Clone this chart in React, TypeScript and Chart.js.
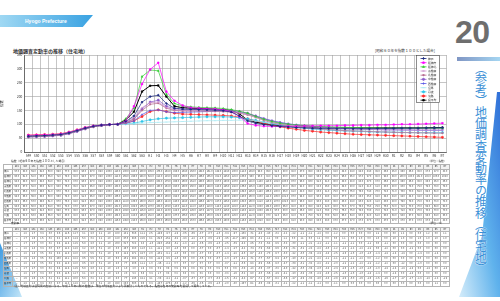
import React, { useEffect, useRef } from "react";
import { Chart, registerables } from "chart.js";
import { drawPoint } from "chart.js/helpers";

Chart.register(...registerables);

const YEARS = [
  "S49","S50","S51","S52","S53","S54","S55","S56","S57","S58","S59","S60","S61","S62","S63",
  "H1","H2","H3","H4","H5","H6","H7","H8","H9","H10","H11","H12","H13","H14","H15",
  "H16","H17","H18","H19","H20","H21","H22","H23","H24","H25","H26","H27","H28","H29","H30",
  "R1","R2","R3","R4","R5","R6","R7",
];

const REGIONS = ["神戸","阪神南","阪神北","東播磨","北播磨","中播磨","西播磨","但馬","丹波","淡路","県平均"];

const kobe = [57,58,59,61,63,69,77,86,93,97,99,100,110,130,180,200,205,175,158,155,154,153,152,151,149,144,130,112,104,99,95,92,90,88,87,86,85,85,84,84,84,84,84,85,85,85,86,86,86,87,87,88];
const hanshinMinami = [60,61,62,63,65,71,79,88,94,97,99,100,112,165,245,298,322,218,185,168,160,158,156,155,152,145,128,103,96,93,92,92,93,93,94,94,95,95,95,96,96,97,97,98,98,99,100,100,101,102,103,104];
const hanshinKita = [58,59,60,62,64,70,78,87,93,97,99,100,120,158,272,296,293,208,175,166,163,161,160,159,157,153,147,140,128,118,110,104,100,97,95,93,92,91,90,89,88,88,87,87,86,86,86,86,86,86,86,86];
const higashiHarima = [56,57,58,60,62,68,76,85,92,96,99,100,108,125,160,178,180,160,152,150,150,150,149,149,148,146,142,136,126,116,108,102,98,95,92,90,88,86,85,84,83,82,81,81,80,80,80,79,79,79,79,79];
const kitaHarima = [55,56,57,59,61,67,75,84,91,96,99,100,105,118,150,172,176,158,150,148,148,148,147,147,146,144,140,134,125,114,106,100,95,91,88,85,83,81,79,77,76,75,74,73,72,71,70,70,69,69,68,68];
const nakaHarima = [54,55,56,58,60,66,74,83,91,96,99,100,106,120,155,180,187,165,156,154,154,154,153,153,152,150,146,140,130,120,112,106,101,97,94,92,90,89,88,87,86,85,85,84,84,84,84,84,84,84,84,84];
const nishiHarima = [55,56,57,59,61,67,75,84,92,96,99,100,104,112,135,150,152,145,142,143,144,145,146,147,147,146,143,138,130,121,113,107,102,98,95,92,90,88,86,85,84,83,82,81,80,80,79,79,78,78,78,78];
const tajima = [58,59,60,62,64,70,78,87,93,97,99,100,101,102,104,106,107,108,109,110,111,112,113,113,114,114,115,114,112,108,104,100,96,92,89,86,84,82,80,78,77,76,75,74,73,72,71,70,70,69,69,68];
const tamba = [57,58,59,61,63,69,77,86,93,97,99,100,102,104,110,116,120,122,123,124,125,126,127,127,127,126,124,120,114,108,102,97,93,89,86,83,81,79,77,76,75,74,73,72,72,71,71,70,70,70,70,70];
const awaji = [61,62,63,64,66,72,80,88,94,97,99,100,104,112,128,146,152,146,140,137,136,135,134,133,132,130,126,120,112,104,97,91,86,82,78,75,72,70,68,66,64,63,62,61,60,59,58,57,56,55,54,53];
const average = [56,57,58,60,62,68,76,85,92,96,99,100,116,145,218,239,240,200,165,160,158,157,156,155,153,150,138,115,108,102,98,95,93,91,90,89,88,88,87,87,87,87,87,87,87,87,87,87,87,87,88,88];

const SERIES = [kobe, hanshinMinami, hanshinKita, higashiHarima, kitaHarima, nakaHarima, nishiHarima, tajima, tamba, awaji, average];
const COLORS = ["#1c2a80","#ff00ff","#33cc33","#cc8fcc","#b86a8e","#8a5acb","#5a5ae6","#a6e8f2","#2cc6ea","#ff2a2a","#000000"];
const POINTS = ["rectRot","rect","triangle","crossRot","star","circle","cross","line","circle","circle","rect"];

const Y_TICKS_MAX = 350;

const legendPlugin = {
  id: "boxLegend",
  afterDatasetsDraw(chart: any) {
    const { ctx, chartArea } = chart;
    const x0 = chartArea.right - 30;
    const y0 = chartArea.top + 0.5;
    const w = 23;
    const h = 47;
    ctx.save();
    ctx.fillStyle = "#ffffff";
    ctx.fillRect(x0, y0, w, h);
    ctx.strokeStyle = "#444";
    ctx.lineWidth = 0.6;
    ctx.strokeRect(x0, y0, w, h);
    chart.data.datasets.forEach((ds: any, i: number) => {
      const y = y0 + 3 + i * 4.17;
      ctx.strokeStyle = ds.borderColor;
      ctx.lineWidth = 0.8;
      ctx.beginPath();
      ctx.moveTo(x0 + 4, y);
      ctx.lineTo(x0 + 10, y);
      ctx.stroke();
      ctx.fillStyle = ds.borderColor;
      drawPoint(ctx, { pointStyle: ds.pointStyle, radius: 1.1, rotation: 0, borderWidth: 0.6 } as any, x0 + 7, y);
      ctx.fillStyle = "#333";
      ctx.font = "2.8px 'Noto Sans CJK JP'";
      ctx.textBaseline = "middle";
      ctx.fillText(REGIONS[i], x0 + 11.5, y);
    });
    ctx.restore();
  },
};

function fmt1(v: number | null) {
  return v == null ? "－" : v.toFixed(1);
}

function rates(arr: number[]) {
  return arr.map((v, i) => (i === 0 ? null : ((v / arr[i - 1]) - 1) * 100));
}

function DataTable({ top, caption, unit, rows }: { top: number; caption: string; unit: string; rows: (number | null)[][] }) {
  const cell: React.CSSProperties = {
    border: "1px solid #b4b4b4",
    padding: 0,
    height: 3.94,
    lineHeight: "3.9px",
    textAlign: "center",
    overflow: "hidden",
    whiteSpace: "nowrap",
    fontSize: 2.3,
    color: "#333",
  };
  return (
    <>
      <div style={{ position: "absolute", left: 11, top: top - 5.5, fontSize: 2.8, color: "#333", whiteSpace: "nowrap" }}>{caption}</div>
      <div style={{ position: "absolute", left: 428, top: top - 5.5, fontSize: 2.6, color: "#333", whiteSpace: "nowrap" }}>{unit}</div>
      <table style={{ position: "absolute", left: 3, top, width: 447, borderCollapse: "collapse", tableLayout: "fixed" }}>
        <colgroup>
          <col style={{ width: 9 }} />
          {YEARS.map((y) => (
            <col key={y} />
          ))}
        </colgroup>
        <tbody>
          <tr>
            <td style={cell}></td>
            {YEARS.map((y) => (
              <td key={y} style={{ ...cell, background: "#f2f2f2" }}>{y}</td>
            ))}
          </tr>
          {rows.map((r, ri) => (
            <tr key={ri}>
              <td style={{ ...cell, textAlign: "left", fontSize: 2.4 }}>{REGIONS[ri]}</td>
              {r.map((v, ci) => (
                <td key={ci} style={cell}>{fmt1(v)}</td>
              ))}
            </tr>
          ))}
        </tbody>
      </table>
    </>
  );
}

function LineChart() {
  const ref = useRef<HTMLCanvasElement>(null);
  useEffect(() => {
    if (!ref.current) return;
    const chart = new Chart(ref.current, {
      type: "line",
      data: {
        labels: YEARS,
        datasets: SERIES.map((s, i) => ({
          label: REGIONS[i],
          data: s,
          borderColor: COLORS[i],
          backgroundColor: COLORS[i],
          borderWidth: i === 10 ? 1 : 0.7,
          pointStyle: POINTS[i] as any,
          pointRadius: 1.1,
          pointBorderWidth: 0.6,
          tension: 0,
        })),
      },
      options: {
        animation: false,
        responsive: false,
        maintainAspectRatio: false,
        layout: { padding: { top: 11, right: 13.5, left: 0, bottom: 0 } },
        plugins: { legend: { display: false }, tooltip: { enabled: false } },
        scales: {
          x: {
            offset: true,
            grid: { offset: true, color: "#a0a0a0", lineWidth: 0.6, drawTicks: false },
            border: { color: "#555", width: 0.8 },
            ticks: { font: { size: 3.2, family: "'Noto Sans CJK JP'" }, color: "#333", maxRotation: 0, autoSkip: false, padding: 2 },
            afterFit: (s: any) => { s.height = 10; },
          },
          y: {
            min: 0,
            max: Y_TICKS_MAX,
            ticks: { stepSize: 50, font: { size: 3.2, family: "'Noto Sans CJK JP'" }, color: "#333", padding: 2 },
            grid: { color: "#a0a0a0", lineWidth: 0.6, drawTicks: false },
            border: { color: "#555", width: 0.8 },
            title: { display: true, text: "指数", font: { size: 3.4, family: "'Noto Sans CJK JP'" }, color: "#333", padding: 0 },
            afterFit: (s: any) => { s.width = 24.3; },
          },
        },
      },
      plugins: [legendPlugin],
    });
    return () => chart.destroy();
  }, []);
  return <canvas ref={ref} width={460} height={118} style={{ position: "absolute", left: 0, top: 44, width: 460, height: 118 }} />;
}

export default function App() {
  const indexRows = SERIES;
  const rateRows = SERIES.map(rates);
  return (
    <div style={{ position: "fixed", left: 0, top: 0, width: 500, height: 301, background: "#fff", overflow: "hidden", fontFamily: "'Noto Sans CJK JP', sans-serif" }}>
      {/* header banner */}
      <div style={{ position: "absolute", left: 0, top: 15, width: 93, height: 12, background: "linear-gradient(to right, #9fd8f3, #39a2e2)", clipPath: "polygon(0 0, 100% 0, 89% 100%, 0 100%)" }} />
      <div style={{ position: "absolute", left: 25, top: 18.3, fontSize: 5, fontWeight: 700, color: "#fff", fontFamily: "'Liberation Sans', sans-serif", whiteSpace: "nowrap" }}>Hyogo Prefecture</div>

      {/* page number */}
      <div style={{ position: "absolute", left: 455, top: 15.5, fontSize: 32, lineHeight: "32px", fontWeight: 700, color: "#6e6e6e", fontFamily: "'Liberation Sans', sans-serif", letterSpacing: -0.5 }}>20</div>
      <div style={{ position: "absolute", left: 457, top: 57, width: 43, height: 3.5, background: "linear-gradient(to right, #8096c4, #a5d6f2)" }} />

      {/* right decoration */}
      <svg width={500} height={301} style={{ position: "absolute", left: 0, top: 0 }}>
        <defs>
          <linearGradient id="rg" x1="1" y1="0" x2="0" y2="1">
            <stop offset="0" stopColor="#2f6fd8" />
            <stop offset="0.5" stopColor="#5fb2ec" />
            <stop offset="1" stopColor="#d4ecfa" />
          </linearGradient>
          <linearGradient id="lg" x1="0" y1="0" x2="1" y2="1">
            <stop offset="0" stopColor="#3c9ae2" />
            <stop offset="1" stopColor="#c4e6f8" />
          </linearGradient>
        </defs>
        <polygon points="497,92 500,92 500,297 459,297 482,236" fill="url(#rg)" />
        <polygon points="0,243 0,297 22,297" fill="url(#lg)" />
      </svg>
      <div style={{ position: "absolute", left: 474.5, top: 62, writingMode: "vertical-rl", fontSize: 12, lineHeight: "13px", color: "#3a8fd6", fontFamily: "'Noto Sans CJK JP', sans-serif", whiteSpace: "nowrap", letterSpacing: -0.85, textShadow: "0 0 1px #fff, 0 0 1px #fff" }}>
        （参考）地価調査変動率の推移（住宅地）
      </div>

      {/* chart titles */}
      <div style={{ position: "absolute", left: 13, top: 46.5, fontSize: 5, fontWeight: 700, color: "#333", whiteSpace: "nowrap" }}>地価調査変動率の推移（住宅地）</div>
      <div style={{ position: "absolute", left: 375, top: 47.5, fontSize: 3.6, color: "#333", whiteSpace: "nowrap" }}>[昭和６０年を指数１００とした場合]</div>

      <LineChart />

      <DataTable top={164} caption="指数（昭和６０年を指数１００とした場合）" unit="（単位：指数）" rows={indexRows} />
      <DataTable top={226.5} caption="変動率" unit="（単位：％）" rows={rateRows} />

      <div style={{ position: "absolute", left: 12, top: 283.5, fontSize: 2.8, color: "#333", whiteSpace: "nowrap" }}>
        （注）地域区分は県民局の区域による。平成１８年以前の数値は、現在の地域区分により再集計したものである。指数は各年の変動率を累積して算出している。
      </div>
    </div>
  );
}
